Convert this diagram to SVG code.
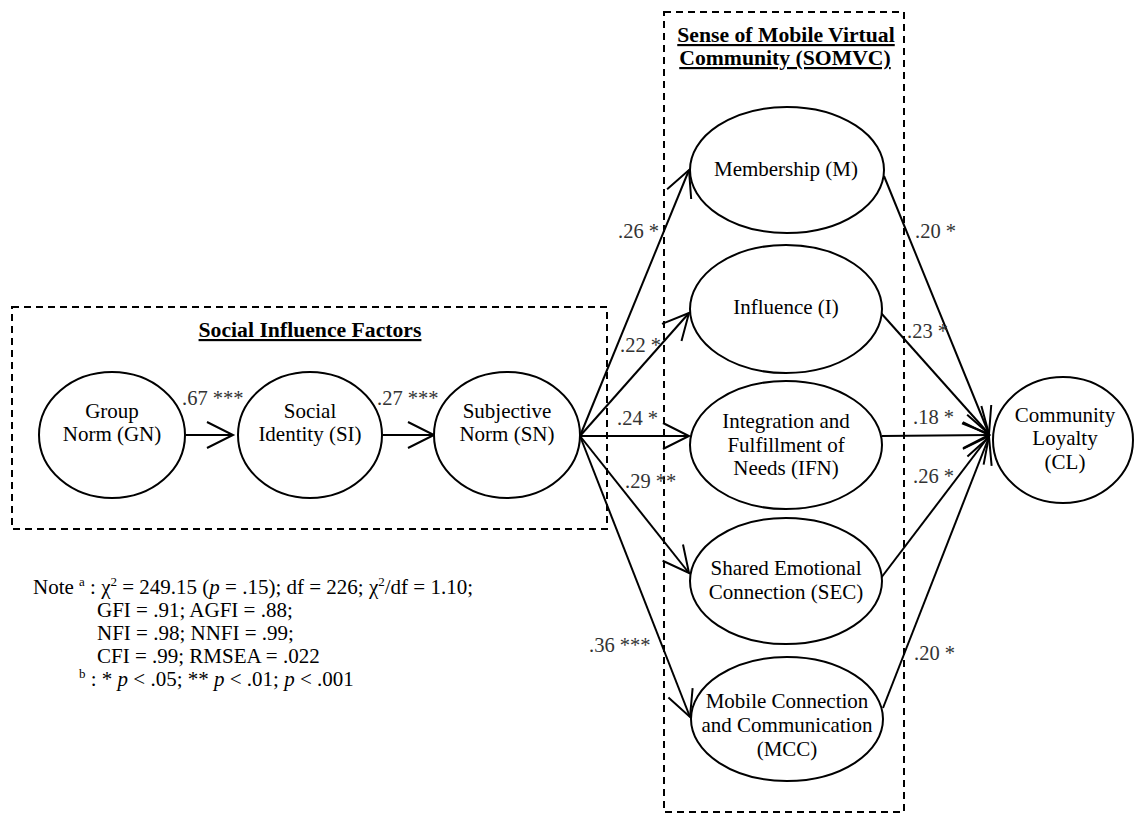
<svg xmlns="http://www.w3.org/2000/svg" width="1134" height="814" viewBox="0 0 1134 814">
<style>
text{font-family:"Liberation Serif",Tinos,"Times New Roman","Nimbus Roman","DejaVu Serif",serif;fill:#000}
.node{font-size:21px;text-anchor:middle}
.lbl{font-size:20.5px;fill:#333}
.title{font-size:21.7px;font-weight:bold;text-anchor:middle;text-decoration:underline}
.note{font-size:21px}
ellipse{fill:#fff;stroke:#000;stroke-width:2}
.box{fill:none;stroke:#000;stroke-width:2;stroke-dasharray:7 5}
.edge{fill:none;stroke:#000;stroke-width:2;marker-end:url(#arr)}
</style>
<defs>
<marker id="arr" viewBox="-2 -2 30 30" refX="26" refY="13" markerWidth="30" markerHeight="30" markerUnits="userSpaceOnUse" orient="auto" overflow="visible">
<path d="M0,0 L26,13 L0,26" fill="none" stroke="#000" stroke-width="2"/>
</marker>
</defs>
<rect width="1134" height="814" fill="#fff"/>

<g id="group-social">
<rect class="box" x="12" y="307" width="595" height="222"/>
<text class="title" x="310" y="337">Social Influence Factors</text>
</g>
<g id="group-somvc">
<rect class="box" x="664" y="12" width="240" height="800"/>
<text class="title" x="786" y="42">Sense of Mobile Virtual </text>
<text class="title" x="785" y="65">Community (SOMVC)</text>
</g>

<g id="connectors">
<path class="edge" d="M186,435 L233,435"/>
<path class="edge" d="M383,435 L434,435"/>
<path class="edge" d="M580,436 L689,170"/>
<path class="edge" d="M580,436 L689,313"/>
<path class="edge" d="M580,436 L689,436"/>
<path class="edge" d="M580,436 L689,573"/>
<path class="edge" d="M580,436 L690,717"/>
<path class="edge" d="M884,176 L989,434"/>
<path class="edge" d="M881,313 L989,434"/>
<path class="edge" d="M882,436 L989,435"/>
<path class="edge" d="M881,578 L989,436"/>
<path class="edge" d="M883,708 L989,437"/>
<text class="lbl" x="182" y="405">.67 ***</text>
<text class="lbl" x="377" y="405">.27 ***</text>
<text class="lbl" x="618" y="238">.26 *</text>
<text class="lbl" x="620" y="352">.22 *</text>
<text class="lbl" x="617" y="425">.24 *</text>
<text class="lbl" x="625" y="488">.29 **</text>
<text class="lbl" x="589" y="652">.36 ***</text>
<text class="lbl" x="915" y="238">.20 *</text>
<text class="lbl" x="907" y="338">.23 *</text>
<text class="lbl" x="913" y="424">.18 *</text>
<text class="lbl" x="913" y="483">.26 *</text>
<text class="lbl" x="914" y="660">.20 *</text>
</g>

<g id="node-gn">
<ellipse cx="112" cy="435" rx="73" ry="63"/>
<text class="node" x="112" y="418">Group</text>
<text class="node" x="112" y="441">Norm (GN)</text>
</g>
<g id="node-si">
<ellipse cx="310" cy="435" rx="72" ry="63"/>
<text class="node" x="310" y="418">Social</text>
<text class="node" x="310" y="441">Identity (SI)</text>
</g>
<g id="node-sn">
<ellipse cx="507" cy="435" rx="73" ry="63"/>
<text class="node" x="507" y="418">Subjective</text>
<text class="node" x="507" y="441">Norm (SN)</text>
</g>
<g id="node-m">
<ellipse cx="787" cy="170" rx="97" ry="63"/>
<text class="node" x="786" y="176">Membership (M)</text>
</g>
<g id="node-i">
<ellipse cx="786" cy="309" rx="96" ry="64"/>
<text class="node" x="786" y="314">Influence (I)</text>
</g>
<g id="node-ifn">
<ellipse cx="786" cy="445" rx="96" ry="64"/>
<text class="node" x="786" y="428">Integration and</text>
<text class="node" x="786" y="452">Fulfillment of</text>
<text class="node" x="786" y="475">Needs (IFN)</text>
</g>
<g id="node-sec">
<ellipse cx="786" cy="581" rx="96" ry="63"/>
<text class="node" x="786" y="575">Shared Emotional</text>
<text class="node" x="786" y="599">Connection (SEC)</text>
</g>
<g id="node-mcc">
<ellipse cx="787" cy="719" rx="96" ry="62"/>
<text class="node" x="787" y="708">Mobile Connection</text>
<text class="node" x="787" y="732">and Communication</text>
<text class="node" x="787" y="756">(MCC)</text>
</g>
<g id="node-cl">
<ellipse cx="1063" cy="440" rx="70" ry="63"/>
<text class="node" x="1065" y="422">Community</text>
<text class="node" x="1065" y="445">Loyalty</text>
<text class="node" x="1065" y="469">(CL)</text>
</g>

<g id="note">
<text class="note" x="33" y="594">Note <tspan font-size="13" dy="-8">a</tspan><tspan dy="8"> : χ</tspan><tspan font-size="13" dy="-8">2</tspan><tspan dy="8"> = 249.15 (</tspan><tspan font-style="italic">p</tspan> = .15); df = 226; χ<tspan font-size="13" dy="-8">2</tspan><tspan dy="8">/df = 1.10;</tspan></text>
<text class="note" x="97" y="617">GFI = .91; AGFI = .88;</text>
<text class="note" x="97" y="640">NFI = .98; NNFI = .99;</text>
<text class="note" x="97" y="663">CFI = .99; RMSEA = .022</text>
<text class="note" x="79" y="686"><tspan font-size="13" dy="-8">b</tspan><tspan dy="8"> : * </tspan><tspan font-style="italic">p</tspan> &lt; .05; ** <tspan font-style="italic">p</tspan> &lt; .01; <tspan font-style="italic">p</tspan> &lt; .001</text>
</g>
</svg>
